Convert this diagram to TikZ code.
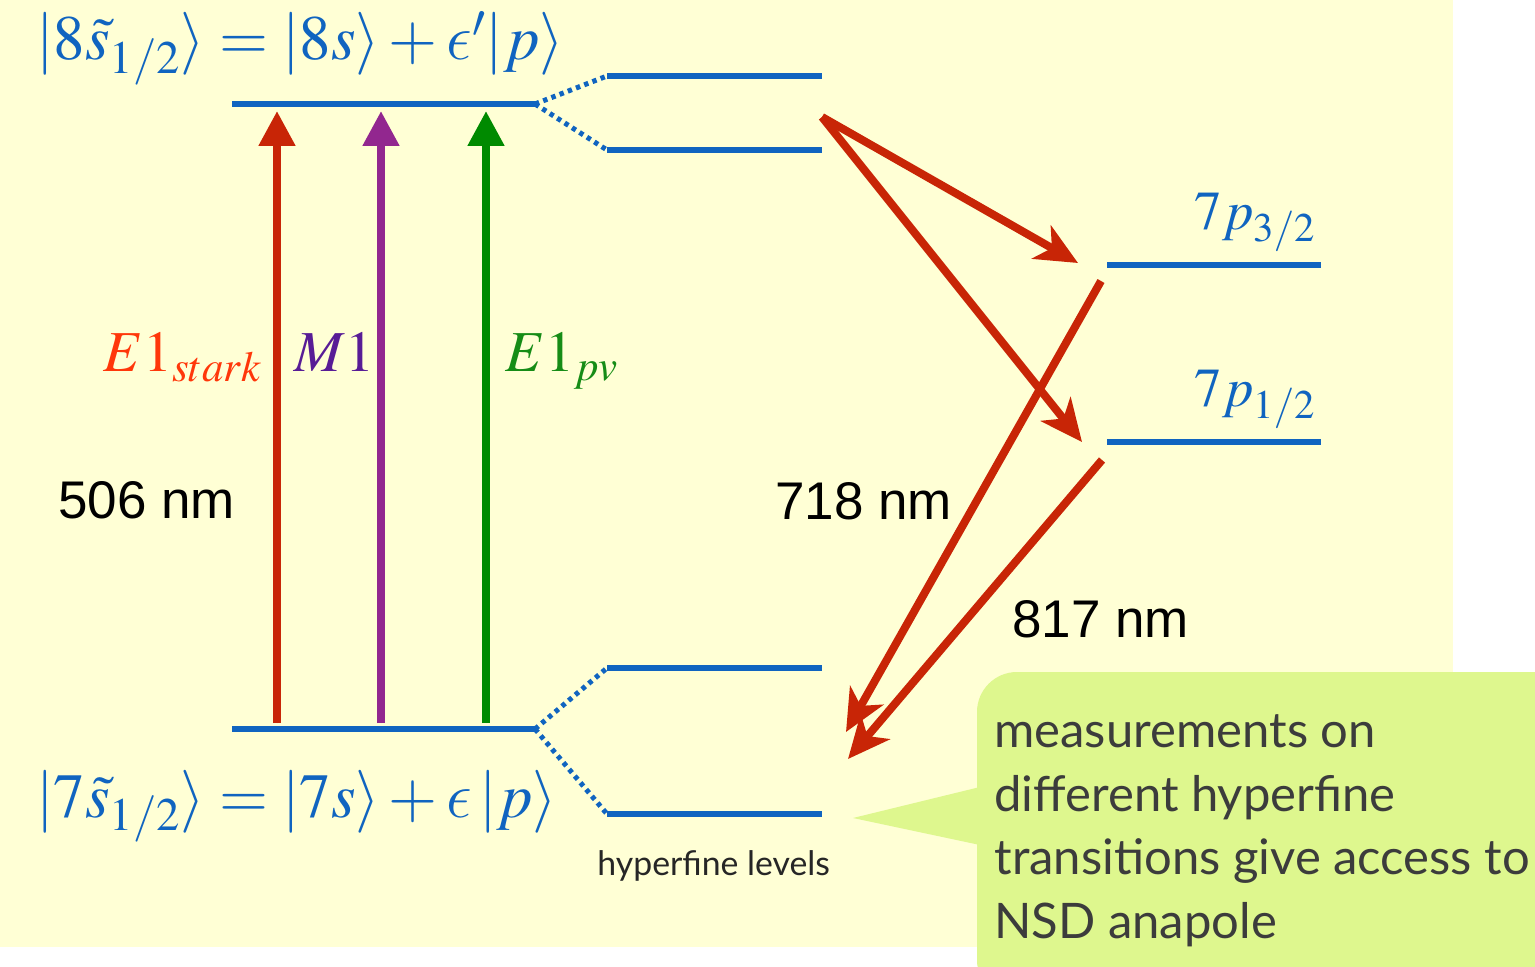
\documentclass[tikz,border=0pt]{standalone}
\usepackage{mathptmx}
\usepackage{fontspec}
\newfontfamily\helv{Liberation Sans}
\newfontfamily\gill{Lato}
\DeclareSymbolFont{cmletters}{OML}{cmm}{m}{it}
\DeclareMathSymbol{\lunatepsbase}{\mathord}{cmletters}{"0F}
\newcommand{\lunateps}{\mathord{\scalebox{1.3}{$\lunatepsbase$}}}
\usetikzlibrary{arrows.meta}
\definecolor{bgy}{RGB}{255,255,213}
\definecolor{callg}{RGB}{222,247,142}
\definecolor{lvlblue}{RGB}{16,100,192}
\definecolor{arrred}{RGB}{200,37,6}
\definecolor{txtred}{RGB}{255,55,10}
\definecolor{arrpur}{RGB}{146,39,143}
\definecolor{txtpur}{RGB}{88,28,150}
\definecolor{arrgrn}{RGB}{0,138,0}
\definecolor{txtgrn}{RGB}{22,140,22}
\definecolor{calltxt}{RGB}{60,60,60}
\begin{document}
\begin{tikzpicture}[x=0.5pt,y=-0.5pt,
  level/.style={draw=lvlblue,line width=2.75pt},
  split/.style={draw=lvlblue,line width=2.5pt,dash pattern=on 2.2pt off 2.2pt},
  vert/.style={line width=4pt,-{Triangle[length=17.5pt,width=17.5pt]}},
  diag/.style={draw=arrred,line width=4pt,-{Stealth[length=21pt,width=19pt,inset=6pt]}},
  formula/.style={inner sep=0pt,anchor=base west,text=lvlblue,font=\fontsize{31.5}{38}\selectfont},
  plabel/.style={inner sep=0pt,anchor=base east,text=lvlblue,font=\fontsize{27.5}{33}\selectfont},
  trlabel/.style={inner sep=0pt,anchor=base west,font=\fontsize{29}{36}\selectfont},
  nm/.style={inner sep=0pt,anchor=base west,font=\helv\fontsize{26.5}{32}\selectfont},
]
\useasboundingbox (0,0) rectangle (1535,967);
\fill[white] (0,0) rectangle (1535,967);
\fill[bgy] (0,0) rectangle (1453,947);

% callout
\begin{scope}
\clip (0,0) rectangle (1535,967);
\fill[callg] (853,818) -- (980,787) -- (980,845) -- cycle;
\fill[callg,rounded corners=20] (977,672) rectangle (1580,1000);
\end{scope}
\node (callout) [inner sep=0pt,anchor=base west,text=calltxt,align=left,
  font=\gill\fontsize{24.5}{31.75}\selectfont] at (994,938)
  {measurements on\\different hyperfine\\transitions give access to\\NSD anapole};

% levels
\coordinate (s8a) at (232,104); \coordinate (s8b) at (535,104);
\coordinate (h8ua) at (607,76); \coordinate (h8ub) at (822,76);
\coordinate (h8la) at (607,150); \coordinate (h8lb) at (822,150);
\coordinate (s7a) at (232,729); \coordinate (s7b) at (535,729);
\coordinate (h7ua) at (607,668); \coordinate (h7ub) at (822,668);
\coordinate (h7la) at (607,814); \coordinate (h7lb) at (822,814);
\coordinate (p3a) at (1107,265); \coordinate (p3b) at (1321,265);
\coordinate (p1a) at (1107,442); \coordinate (p1b) at (1321,442);

\draw[level] (s8a) -- (s8b);
\draw[level] (h8ua) -- (h8ub);
\draw[level] (h8la) -- (h8lb);
\draw[level] (s7a) -- (s7b);
\draw[level] (h7ua) -- (h7ub);
\draw[level] (h7la) -- (h7lb);
\draw[level] (p3a) -- (p3b);
\draw[level] (p1a) -- (p1b);
\draw[split] (s8b) -- (h8ua);
\draw[split] (s8b) -- (h8la);
\draw[split] (s7b) -- (h7ua);
\draw[split] (s7b) -- (h7la);

% vertical transitions
\coordinate (r0) at (277,723); \coordinate (r1) at (277,111);
\coordinate (m0) at (381,723); \coordinate (m1) at (381,111);
\coordinate (g0) at (486,723); \coordinate (g1) at (486,111);
\draw[vert,draw=arrred,fill=arrred] (r0) -- (r1);
\draw[vert,draw=arrpur,fill=arrpur] (m0) -- (m1);
\draw[vert,draw=arrgrn,fill=arrgrn] (g0) -- (g1);

% decays
\coordinate (d0) at (822,117);
\coordinate (t3) at (1078,263);
\coordinate (t1) at (1082,442);
\coordinate (e3) at (1101,281);
\coordinate (e1) at (1102,460);
\coordinate (f3) at (846,732);
\coordinate (f1) at (848,759);
\draw[diag] (d0) -- (t3);
\draw[diag] (d0) -- (t1);
\draw[diag] (e3) -- (f3);
\draw[diag] (e1) -- (f1);

% labels
\node (top) [formula] at (36,60) {$|8\tilde{s}_{1/2}\rangle = |8s\rangle + \lunateps'|p\rangle$};
\node (bot) [formula] at (36,817) {$|7\tilde{s}_{1/2}\rangle = |7s\rangle + \lunateps\,|p\rangle$};
\node (l3) [plabel] at (1316,230) {$7p_{3/2}$};
\node (l1) [plabel] at (1316,407) {$7p_{1/2}$};
\node (es) [trlabel,text=txtred] at (103,372) {$E1_{stark}$};
\node (mm) [trlabel,text=txtpur] at (294,372) {$M1$};
\node (ep) [trlabel,text=txtgrn] at (505,372) {$E1_{pv}$};
\node (w506) [nm] at (58,518) {506 nm};
\node (w718) [nm] at (775,519) {718 nm};
\node (w817) [nm] at (1012,637) {817 nm};
\node (hfl) [inner sep=0pt,anchor=base west,text=black!85,font=\gill\fontsize{16.9}{21}\selectfont] at (597,875) {hyperfine levels};
\end{tikzpicture}
\end{document}
